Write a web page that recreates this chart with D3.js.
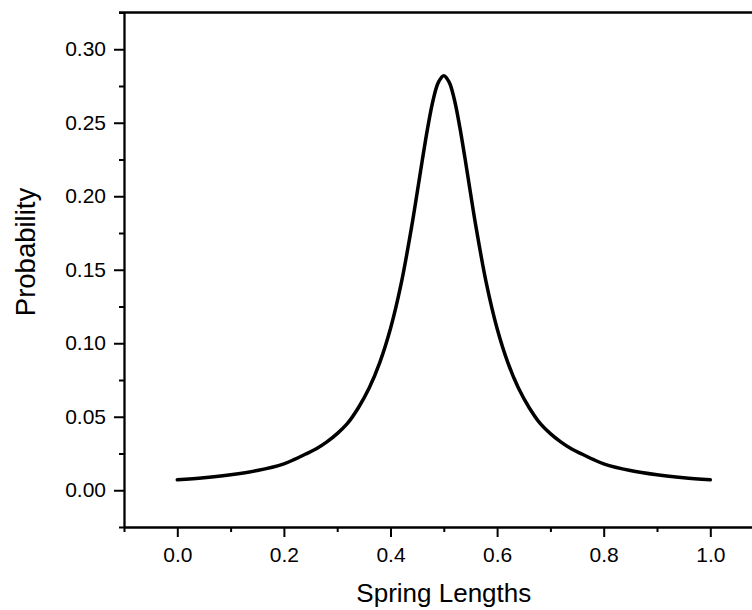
<!DOCTYPE html>
<html>
<head>
<meta charset="utf-8">
<script src="https://cdn.jsdelivr.net/npm/d3@7"></script>
<style>
  body { margin: 0; background: #fff; }
</style>
</head>
<body>
<div id="chart"></div>
<script>
// Spring length values (x) and probability (y)
const lengths = [0.00, 0.05, 0.10, 0.15, 0.20, 0.22, 0.24, 0.26, 0.28, 0.30, 0.32, 0.34, 0.36, 0.38, 0.40, 0.42, 0.44, 0.45, 0.46, 0.47, 0.48, 0.49,
  0.50,
  0.51, 0.52, 0.53, 0.54, 0.55, 0.56, 0.58, 0.60, 0.62, 0.64, 0.66, 0.68, 0.70, 0.72, 0.74, 0.76, 0.78, 0.80, 0.85, 0.90, 0.95, 1.00];
const probability = [0.0071, 0.0085, 0.0105, 0.0134, 0.0180, 0.0210, 0.0245, 0.0280, 0.0327, 0.0385, 0.0458, 0.0563, 0.0695, 0.0870, 0.1100, 0.1405, 0.1800, 0.2024, 0.2253, 0.2470, 0.2655, 0.2776,
  0.2820,
  0.2776, 0.2655, 0.2470, 0.2253, 0.2024, 0.1800, 0.1405, 0.1100, 0.0870, 0.0695, 0.0563, 0.0458, 0.0385, 0.0327, 0.0280, 0.0245, 0.0210, 0.0180, 0.0134, 0.0105, 0.0085, 0.0071];

const xTicks = [0.0, 0.2, 0.4, 0.6, 0.8, 1.0];
const xMinor = [-0.1, 0.1, 0.3, 0.5, 0.7, 0.9, 1.1];
const yTicks = [0.00, 0.05, 0.10, 0.15, 0.20, 0.25, 0.30];
const yMinor = [-0.025, 0.025, 0.075, 0.125, 0.175, 0.225, 0.275, 0.325];

const W = 752, H = 610;
const mLeft = 124, mTop = 12.5, mBottom = 527, mRight = 763.6;
const FONT = "'Liberation Sans', Arial, sans-serif";

const svg = d3.select("#chart").append("svg")
  .attr("width", W)
  .attr("height", H)
  .style("display", "block");

const x = d3.scaleLinear().domain([-0.1, 1.1]).range([mLeft, mRight]);
const y = d3.scaleLinear().domain([-0.025, 0.325]).range([mBottom, mTop]);

function styleAxis(g) {
  g.attr("font-size", 21).attr("font-family", FONT);
  g.selectAll("path, line").attr("stroke", "#000").attr("stroke-width", 2);
  g.selectAll("text")
    .attr("fill", "#000")
    .style("font-family", FONT)
    .style("font-size", "21px");
}

// minor ticks
svg.append("g")
  .attr("transform", "translate(0," + mBottom + ")")
  .call(d3.axisBottom(x).tickValues(xMinor).tickSize(5).tickSizeOuter(0).tickFormat(""))
  .call(styleAxis)
  .select(".domain").remove();
svg.append("g")
  .attr("transform", "translate(" + mLeft + ",0)")
  .call(d3.axisLeft(y).tickValues(yMinor).tickSize(5).tickSizeOuter(0).tickFormat(""))
  .call(styleAxis)
  .select(".domain").remove();

// major axes
const xAxis = svg.append("g")
  .attr("transform", "translate(0," + mBottom + ")")
  .call(d3.axisBottom(x).tickValues(xTicks).tickSize(10).tickSizeOuter(0).tickPadding(10).tickFormat(d3.format(".1f")))
  .call(styleAxis);
xAxis.select(".domain").attr("stroke-width", 2.3);

const yAxis = svg.append("g")
  .attr("transform", "translate(" + mLeft + ",0)")
  .call(d3.axisLeft(y).tickValues(yTicks).tickSize(10).tickSizeOuter(0).tickPadding(8).tickFormat(d3.format(".2f")))
  .call(styleAxis);
yAxis.select(".domain").attr("stroke-width", 2.3);

// top and right frame
svg.append("line")
  .attr("x1", mLeft - 5).attr("x2", mRight)
  .attr("y1", mTop).attr("y2", mTop)
  .attr("stroke", "#000").attr("stroke-width", 2.3);
svg.append("line")
  .attr("x1", mRight).attr("x2", mRight)
  .attr("y1", mTop).attr("y2", mBottom)
  .attr("stroke", "#000").attr("stroke-width", 2.3);

// curve
const pts = lengths.map((d, i) => [d, probability[i]]);
svg.append("path")
  .datum(pts)
  .attr("fill", "none")
  .attr("stroke", "#000")
  .attr("stroke-width", 3.5)
  .attr("stroke-linecap", "round")
  .attr("d", d3.line().curve(d3.curveCatmullRom.alpha(0.5)).x(d => x(d[0])).y(d => y(d[1])));

// axis titles
svg.append("text")
  .attr("x", (x(0) + x(1)) / 2)
  .attr("y", 601.5)
  .attr("text-anchor", "middle")
  .style("font-family", FONT)
  .style("font-size", "26px")
  .text("Spring Lengths");

svg.append("text")
  .attr("transform", "translate(35,252) rotate(-90)")
  .attr("text-anchor", "middle")
  .style("font-family", FONT)
  .style("font-size", "27.5px")
  .text("Probability");
</script>
</body>
</html>
